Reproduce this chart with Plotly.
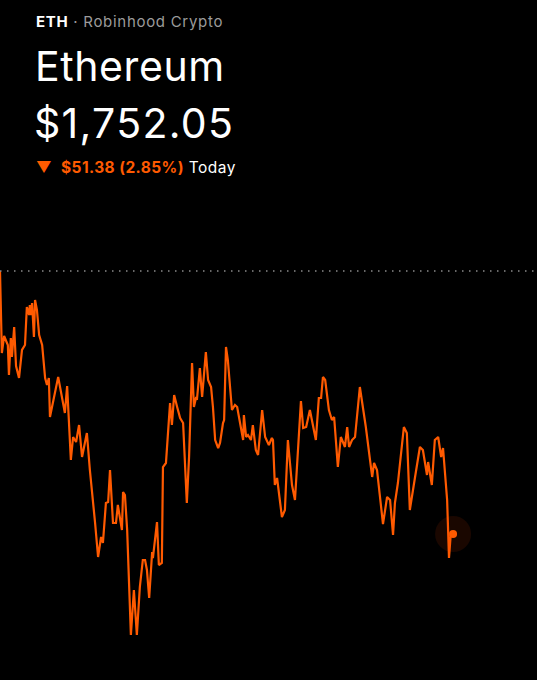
import plotly.graph_objects as go

# ---- data ----
symbol = "ETH"
source = "Robinhood Crypto"
name = "Ethereum"
last_price = 1752.05
change_abs = 51.38
change_pct = 2.85
prev_close = 1803.43

minutes = [0, 5, 11, 16, 21, 24, 29, 32, 38, 43, 51, 59, 67, 72, 78, 80, 83, 86, 91, 94,
           99, 105, 113, 121, 126, 131, 134, 156, 174, 180, 190, 196, 204, 212, 220, 233, 241,
           255, 263, 271, 276, 284, 290, 295, 303, 311, 316, 327, 330, 335, 341, 351, 359, 367,
           375, 383, 389, 394, 400, 408, 410, 421, 426, 434, 437, 445, 456, 461, 467, 475, 483,
           491, 501, 507, 515, 520, 526, 528, 536, 542, 552, 558, 566, 571, 577, 585, 590, 598,
           601, 606, 611, 622, 630, 636, 646, 652, 654, 660, 665, 673, 678, 686, 692, 703, 711,
           721, 729, 732, 737, 743, 756, 764, 772, 783, 791, 807, 813, 821, 831, 847, 855, 861,
           866, 872, 882, 890, 896, 906, 914, 925, 931, 936, 944, 952, 965, 981, 998, 1003, 1011,
           1019, 1027, 1038, 1046, 1054, 1059, 1067, 1083, 1091, 1099, 1113, 1126, 1134, 1145,
           1148, 1158, 1166, 1175, 1183, 1188, 1199, 1204, 1209, 1215]

prices = [1803.43, 1787.41, 1790.73, 1789.95, 1788.97, 1783.11, 1790.34, 1786.63, 1792.49,
          1784.87, 1782.53, 1788.00, 1788.97, 1796.40, 1794.83, 1796.79, 1794.83, 1797.18,
          1790.54, 1797.76, 1795.81, 1790.93, 1788.97, 1782.53, 1781.16, 1782.53, 1774.91,
          1782.72, 1775.69, 1780.96, 1766.51, 1771.00, 1770.02, 1773.34, 1767.09, 1771.78,
          1764.55, 1754.20, 1747.56, 1751.46, 1750.29, 1758.11, 1758.30, 1764.55, 1754.20,
          1754.20, 1757.72, 1752.83, 1760.26, 1759.67, 1752.83, 1732.32, 1741.11, 1732.32,
          1741.70, 1746.97, 1746.97, 1745.02, 1739.55, 1748.53, 1747.36, 1754.39, 1745.99,
          1746.38, 1765.14, 1765.92, 1777.64, 1773.34, 1779.21, 1776.86, 1774.71, 1773.73,
          1758.11, 1767.09, 1785.46, 1776.86, 1778.81, 1778.23, 1784.48, 1778.81, 1787.61,
          1782.14, 1780.77, 1776.86, 1770.41, 1768.85, 1769.83, 1773.73, 1774.32, 1788.58,
          1786.04, 1776.27, 1777.25, 1776.86, 1772.37, 1770.41, 1775.30, 1771.00, 1771.39,
          1770.41, 1773.34, 1768.46, 1767.48, 1776.27, 1771.00, 1769.44, 1770.80, 1770.41,
          1761.62, 1762.99, 1755.37, 1756.74, 1770.41, 1761.62, 1758.69, 1778.03, 1772.76,
          1772.95, 1776.27, 1770.41, 1778.62, 1778.62, 1782.72, 1782.14, 1776.27, 1774.32,
          1774.91, 1765.14, 1771.00, 1769.05, 1772.95, 1769.05, 1770.41, 1771.00, 1780.77,
          1772.95, 1763.19, 1765.92, 1764.55, 1759.28, 1754.00, 1759.28, 1758.69, 1751.85,
          1758.11, 1762.01, 1772.95, 1771.78, 1756.74, 1763.19, 1769.05, 1768.46, 1763.58,
          1766.12, 1761.62, 1770.41, 1771.00, 1767.09, 1768.85, 1758.69, 1747.36, 1752.25,
          1752.05]

ORANGE = "#ff5a00"
W, H = 537, 680

fig = go.Figure()

fig.add_trace(go.Scatter(x=minutes, y=prices, mode="lines",
                         line=dict(color=ORANGE, width=2.2), hoverinfo="skip"))
# glow + dot at last point
fig.add_trace(go.Scatter(x=[minutes[-1]], y=[prices[-1]], mode="markers",
                         marker=dict(size=36, color="rgba(255,70,0,0.10)"), hoverinfo="skip"))
fig.add_trace(go.Scatter(x=[minutes[-1]], y=[prices[-1]], mode="markers",
                         marker=dict(size=8, color=ORANGE), hoverinfo="skip"))

# previous close dotted line
fig.add_shape(type="line", xref="paper", x0=0, x1=1, yref="y", y0=prev_close, y1=prev_close,
              line=dict(color="#8a8a8a", width=1.5, dash="1.5px,5.5px"))


def sp(txt, ls, extra=""):
    return f"<span style='letter-spacing:{ls}px;{extra}'>{txt}</span>"


fig.add_annotation(xref="paper", yref="paper", x=34 / W, y=1 - 21 / H, xanchor="left", yanchor="middle",
                   showarrow=False,
                   text=sp(f"<b>{symbol}</b>", 0.7) + sp(f" · {source}", 0.7, "fill:#9b9b9b"),
                   font=dict(family="Inter", size=15, color="#ffffff"))
fig.add_annotation(xref="paper", yref="paper", x=33 / W, y=1 - 66 / H, xanchor="left", yanchor="middle",
                   showarrow=False, text=sp(name, 0.6),
                   font=dict(family="Inter", size=41, color="#ffffff"))
fig.add_annotation(xref="paper", yref="paper", x=32 / W, y=1 - 123 / H, xanchor="left", yanchor="middle",
                   showarrow=False, text=sp(f"${last_price:,.2f}", 1.3),
                   font=dict(family="Inter", size=41, color="#ffffff"))
fig.add_annotation(xref="paper", yref="paper", x=34 / W, y=1 - 167 / H, xanchor="left", yanchor="middle",
                   showarrow=False,
                   text=sp("▼ ", 2.5, f"fill:{ORANGE}")
                   + sp(f"<b>${change_abs:.2f} ({change_pct:.2f}%)</b>", 0.4, f"fill:{ORANGE}")
                   + sp(" Today", 0.5),
                   font=dict(family="Inter", size=15.5, color="#ffffff"))

y_per_px = change_abs / (534 - 271)
fig.update_layout(
    width=W, height=H,
    margin=dict(l=0, r=0, t=0, b=0),
    paper_bgcolor="#000000", plot_bgcolor="#000000",
    showlegend=False, hovermode=False,
    xaxis=dict(range=[0, 1440], visible=False, fixedrange=True),
    yaxis=dict(range=[last_price - (H - 534) * y_per_px, last_price + 534 * y_per_px],
               visible=False, fixedrange=True),
)

fig.write_html("out.html", config={"displayModeBar": False},
               post_script="document.body.style.margin='0';document.body.style.background='#000';")
